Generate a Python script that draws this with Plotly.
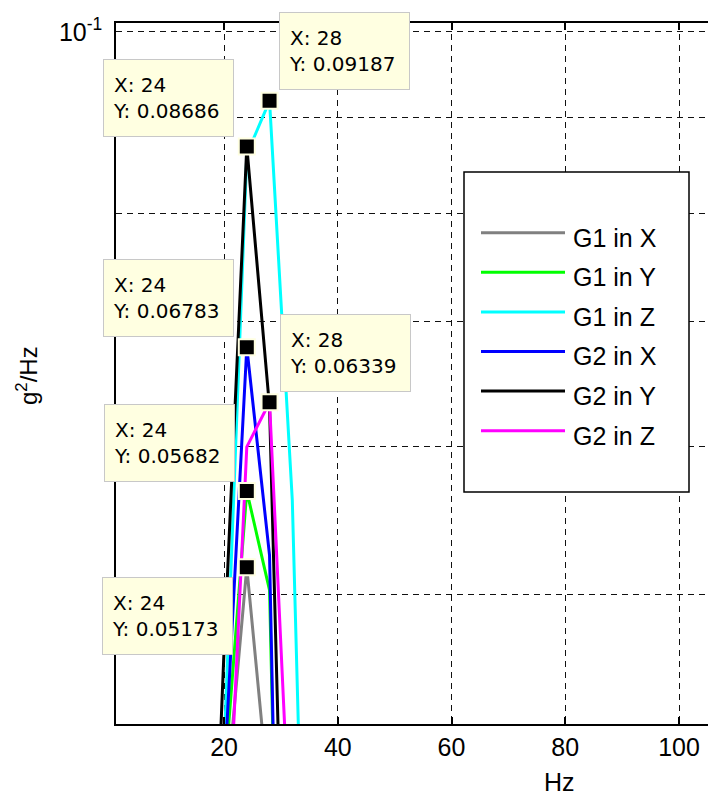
import math
import plotly.graph_objects as go

# Power spectral density around the first resonance (g^2/Hz)
freq_hz = [16, 20, 24, 28, 32, 36]
g1_x = [0.0150, 0.0378, 0.05173, 0.0386, 0.0160, 0.0090]
g1_y = [0.0140, 0.0396, 0.05682, 0.0503, 0.0150, 0.0080]
g1_z = [0.0120, 0.0413, 0.0860, 0.09187, 0.0562, 0.0198]
g2_x = [0.0130, 0.0398, 0.06783, 0.0525, 0.0136, 0.0070]
g2_y = [0.0234, 0.0467, 0.08686, 0.0630, 0.0220, 0.0100]
g2_z = [0.0120, 0.0331, 0.0600, 0.06339, 0.0348, 0.0090]

series_names = ["G1 in X", "G1 in Y", "G1 in Z", "G2 in X", "G2 in Y", "G2 in Z"]
series_values = [g1_x, g1_y, g1_z, g2_x, g2_y, g2_z]
series_colors = ["#808080", "#00FF00", "#00FFFF", "#0000FF", "#000000", "#FF00FF"]

x_tick_vals = [20, 40, 60, 80, 100]
y_major_vals = [0.1]
y_major_text = ["10<sup>-1</sup>"]
y_minor_vals = [0.09, 0.08, 0.07, 0.06, 0.05]

# Data cursors: (series index, frequency)
tip_points = [(2, 28), (4, 24), (3, 24), (5, 28), (1, 24), (0, 24)]
# Box placement relative to each cursor: xanchor, yanchor, xshift, yshift (px)
tip_boxes = [
    ("left", "bottom", 9.5, 11),
    ("right", "bottom", -12.75, 9.4),
    ("right", "bottom", -12.75, 10.3),
    ("left", "bottom", 10.5, 10),
    ("right", "bottom", -12, 9),
    ("right", "top", -13.75, -10),
]

FONT = "Liberation Sans, Arial, sans-serif"
TIP_FONT = "DejaVu Sans, Verdana, sans-serif"
W, H = 708, 795
L, R, T, B = 116, 0, 23, 71
PW, PH = W - L - R, H - T - B
GRID = dict(gridcolor="#111111", gridwidth=1.3, griddash="6px,5px")


def px_x(px):
    return (px - L) / PW


def px_y(py):
    return (H - B - py) / PH


fig = go.Figure()

for name, vals, col in zip(series_names, series_values, series_colors):
    fig.add_trace(go.Scatter(
        x=freq_hz, y=vals, mode="lines", name=name,
        line=dict(color=col, width=3), showlegend=False,
    ))

tip_x = [f for _, f in tip_points]
tip_y = [series_values[s][freq_hz.index(f)] for s, f in tip_points]
fig.add_trace(go.Scatter(
    x=tip_x, y=tip_y, mode="markers", showlegend=False,
    marker=dict(symbol="square", size=16, color="black",
                line=dict(color="#FFFFE1", width=2)),
))

annotations = []
for (xv, yv), (xa, ya, xs, ys) in zip(zip(tip_x, tip_y), tip_boxes):
    annotations.append(dict(
        x=xv, y=math.log10(yv), xref="x", yref="y",
        text=f"X: {xv}<br>Y: {yv:.4g}",
        showarrow=False, align="left", valign="middle",
        xanchor=xa, yanchor=ya, xshift=xs, yshift=ys,
        width=111, height=58, borderpad=9, borderwidth=1,
        bgcolor="#FFFFE1", bordercolor="#C8C8C8",
        font=dict(family=TIP_FONT, size=20, color="black"),
    ))

# Axis titles
annotations.append(dict(
    x=px_x(559), y=px_y(782), xref="paper", yref="paper",
    text="Hz", showarrow=False, xanchor="center", yanchor="middle",
    font=dict(family=FONT, size=25, color="black"),
))
annotations.append(dict(
    x=px_x(27), y=px_y(376), xref="paper", yref="paper",
    text="g<sup>2</sup>/Hz", showarrow=False, textangle=-90,
    xanchor="center", yanchor="middle",
    font=dict(family=FONT, size=24, color="black"),
))

# Legend box
shapes = [dict(
    type="rect", xref="paper", yref="paper",
    x0=px_x(464), x1=px_x(689), y0=px_y(492), y1=px_y(172),
    fillcolor="white", line=dict(color="black", width=1.5), layer="above",
)]
leg_y0, leg_dy = 232.7, 39.6
for i, (name, col) in enumerate(zip(series_names, series_colors)):
    ly = leg_y0 + i * leg_dy
    shapes.append(dict(
        type="line", xref="paper", yref="paper",
        x0=px_x(481), x1=px_x(565), y0=px_y(ly), y1=px_y(ly),
        line=dict(color=col, width=3), layer="above",
    ))
    annotations.append(dict(
        x=px_x(571), y=px_y(ly + 5), xref="paper", yref="paper",
        text=name, showarrow=False, xanchor="left", yanchor="middle",
        font=dict(family=FONT, size=25, color="black"),
    ))

fig.update_layout(
    width=W, height=H, autosize=False,
    margin=dict(l=L, r=R, t=T, b=B, pad=0),
    paper_bgcolor="white", plot_bgcolor="white",
    font=dict(family=FONT, size=25, color="black"),
    showlegend=False,
    shapes=shapes, annotations=annotations,
    xaxis=dict(
        range=[1, 105.1], tickvals=x_tick_vals,
        ticks="inside", ticklen=7, tickcolor="black", tickwidth=1.5,
        showline=True, linecolor="black", linewidth=1.5, mirror="ticks",
        showgrid=True, zeroline=False,
        tickfont=dict(family=FONT, size=25, color="black"), **GRID,
    ),
    yaxis=dict(
        type="log", range=[-1.37005, -0.99519],
        tickvals=y_major_vals, ticktext=y_major_text, ticks="",
        ticklabelstandoff=7,
        minor=dict(tickvals=y_minor_vals, ticks="", showgrid=True, **GRID),
        showline=True, linecolor="black", linewidth=1.5, mirror=False,
        showgrid=True, zeroline=False,
        tickfont=dict(family=FONT, size=25, color="black"), **GRID,
    ),
)

fig.write_html("out.html")
